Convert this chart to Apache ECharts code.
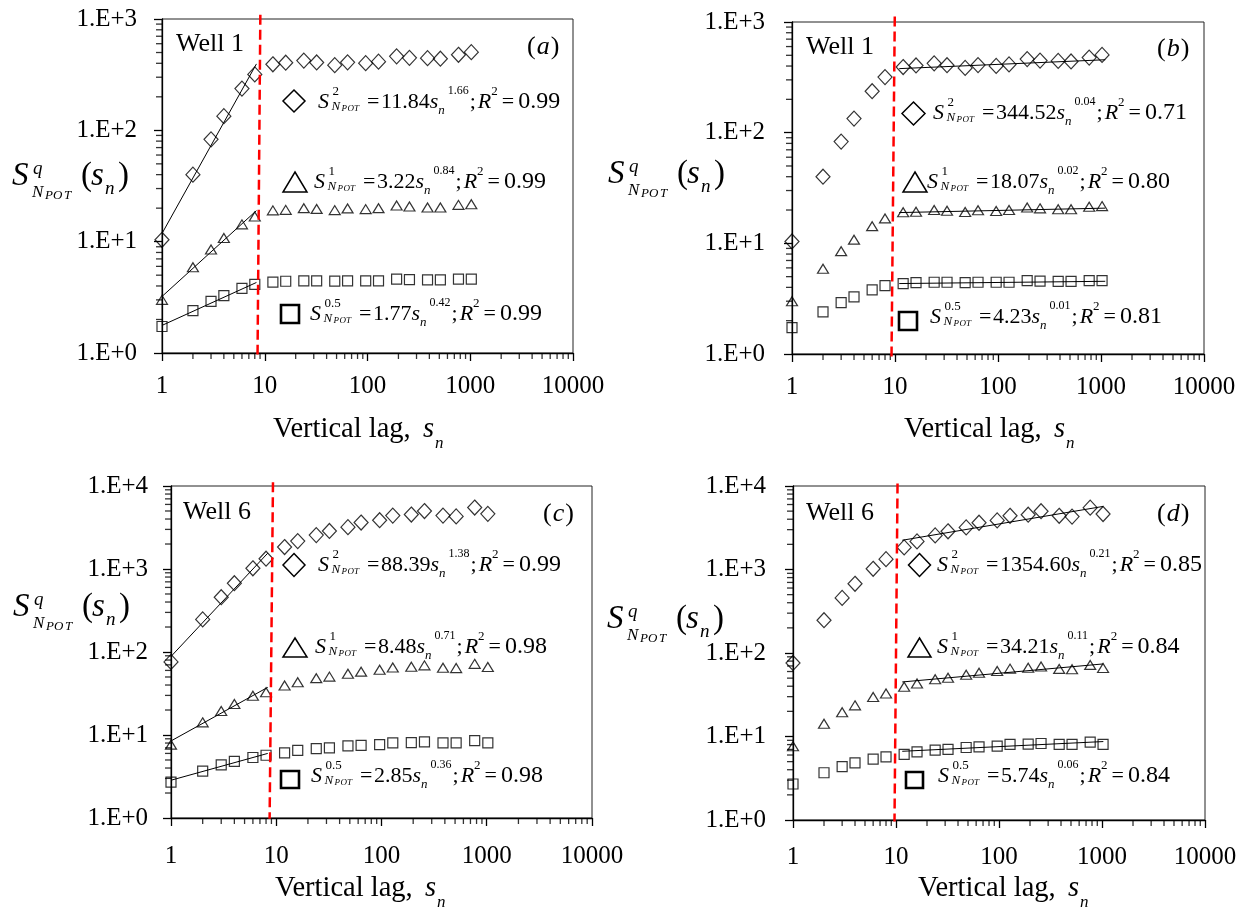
<!DOCTYPE html>
<html><head><meta charset="utf-8">
<script src="https://cdn.jsdelivr.net/npm/echarts@6/dist/echarts.min.js"></script>
<style>html,body{margin:0;padding:0;background:#fff}#c{width:1252px;height:907px}</style>
</head><body><div id="c"></div>
<script>
// ---------------- data ----------------
const lags = [1,2,3,4,6,8,12,16,24,32,48,64,96,128,192,256,384,512,768,1024];

// Well 1
const well1_q2  = [10.4, 40, 83, 134, 237, 318, 392, 405, 423, 407, 385, 408, 401, 414, 462, 448, 445, 440, 477, 504];
const well1_q1  = [3.0, 5.9, 8.5, 10.8, 14.3, 16.8, 19.1, 19.3, 20.0, 19.7, 19.2, 19.9, 19.6, 20.0, 21.1, 20.7, 20.3, 20.3, 21.4, 21.7];
const well1_q05 = [1.73, 2.4, 2.91, 3.28, 3.8, 4.14, 4.33, 4.41, 4.45, 4.45, 4.42, 4.45, 4.45, 4.45, 4.6, 4.56, 4.53, 4.53, 4.6, 4.6];

// Well 6
const well6_q2  = [76, 247, 457, 674, 1020, 1330, 1840, 2170, 2560, 2870, 3190, 3630, 3870, 4400, 4530, 4990, 4400, 4300, 5500, 4620];
const well6_q1  = [7.65, 14.2, 19.5, 23.6, 29.7, 32.7, 39.4, 43.2, 48.4, 50.5, 54.8, 58, 61, 65, 66.5, 69, 64.5, 64, 72, 66];
const well6_q05 = [2.7, 3.68, 4.36, 4.82, 5.36, 5.7, 6.1, 6.54, 6.85, 7.0, 7.38, 7.5, 7.65, 8.05, 8.1, 8.25, 8.05, 8.05, 8.55, 8.05];

// fitted power-law lines (end points)
const fitA_q2  = [[1, 11.84], [8.3, 395]];
const fitA_q1  = [[1, 3.22], [8.3, 19.0]];
const fitA_q05 = [[1, 1.77], [8.3, 4.30]];
const fitB_q2  = [[11, 379], [1100, 456]];
const fitB_q1  = [[11, 18.96], [1100, 20.8]];
const fitB_q05 = [[11, 4.33], [1100, 4.54]];
const fitC_q2  = [[1, 88.4], [8.3, 1550]];
const fitC_q1  = [[1, 8.48], [8.3, 37.5]];
const fitC_q05 = [[1, 2.85], [8.3, 6.0]];
const fitD_q2  = [[11.5, 2240], [1030, 5700]];
const fitD_q1  = [[11.5, 45], [1030, 74]];
const fitD_q05 = [[11.5, 6.65], [1030, 8.7]];

// red dashed separators
const dashA = [[9.06, 1090], [8.51, 0.97]];
const dashB = [[9.95, 1120], [9.25, 0.95]];
const dashC = [[9.31, 11100], [8.65, 0.98]];
const dashD = [[10.35, 10700], [9.67, 0.96]];

// equations: [superscript q, coefficient, exponent, R2]
const eqA = [['2','11.84','1.66','0.99'], ['1','3.22','0.84','0.99'], ['0.5','1.77','0.42','0.99']];
const eqB = [['2','344.52','0.04','0.71'], ['1','18.07','0.02','0.80'], ['0.5','4.23','0.01','0.81']];
const eqC = [['2','88.39','1.38','0.99'], ['1','8.48','0.71','0.98'], ['0.5','2.85','0.36','0.98']];
const eqD = [['2','1354.60','0.21','0.85'], ['1','34.21','0.11','0.84'], ['0.5','5.74','0.06','0.84']];

// axis ticks
const xTickValues = [1, 10, 100, 1000, 10000];
const xTickLabels = ['1', '10', '100', '1000', '10000'];
const yTickLabels = ['1.E+0', '1.E+1', '1.E+2', '1.E+3', '1.E+4'];
const minorTicks = [2,3,4,5,6,7,8,9,20,30,40,50,60,70,80,90,200,300,400,500,600,700,800,900,2000,3000,4000,5000,6000,7000,8000,9000];

// ---------------- helpers ----------------
const FONT = '"Liberation Serif", "Times New Roman", serif';
const mctx = document.createElement('canvas').getContext('2d');
function tw(t, fs, it) { mctx.font = (it ? 'italic ' : '') + fs + 'px ' + FONT; return mctx.measureText(t).width; }
function txt(t, x, base, fs, it) {
  return {type:'text', x: x, y: base - 0.32 * fs, silent: true, z: 100,
    style: {text: t, fill: '#000', fontSize: fs, fontFamily: FONT, fontStyle: it ? 'italic' : 'normal',
      textAlign: 'left', textVerticalAlign: 'middle', align: 'left', verticalAlign: 'middle'}};
}
function equation(x0, base, e) {
  const [sup, coef, expo, r2] = e;
  const F = 22, els = [];
  els.push(txt('S', x0, base, F, true));
  els.push(txt(sup, x0 + 14.5, base - 13, 13, false));
  els.push(txt('N', x0 + 13.5, base + 2, 13, true));
  els.push(txt('P', x0 + 23.5, base + 3, 9, true));
  els.push(txt('O', x0 + 29.5, base + 3, 9, true));
  els.push(txt('T', x0 + 36, base + 3, 9, true));
  els.push(txt('=', x0 + 49, base, F, false));
  let cx = x0 + 63;
  els.push(txt(coef, cx, base, F, false)); cx += tw(coef, F, false);
  els.push(txt('s', cx, base, F, true)); cx += tw('s', F, true);
  els.push(txt('n', cx, base + 6, 13, true)); cx += tw('n', 13, true) + 3;
  els.push(txt(expo, cx, base - 14, 12, false)); cx += tw(expo, 12, false) + 1;
  els.push(txt(';', cx, base, F, false)); cx += tw(';', F, false) + 2;
  els.push(txt('R', cx, base, F, true)); cx += tw('R', F, true);
  els.push(txt('2', cx, base - 13, 13, false)); cx += tw('2', 13, false) + 4;
  els.push(txt('=', cx, base, F, false)); cx += tw('=', F, false) + 4;
  els.push(txt(r2, cx, base, 24, false));
  return els;
}
function yTitle(x0, base) {
  return [
    txt('S', x0, base, 33, true),
    txt('q', x0 + 21, base - 12, 19, true),
    txt('N', x0 + 20, base + 11, 17, true),
    txt('P', x0 + 33, base + 13, 13, true),
    txt('O', x0 + 41, base + 13, 13, true),
    txt('T', x0 + 52, base + 13, 13, true),
    txt('(', x0 + 69, base, 33, false),
    txt('s', x0 + 79, base, 33, true),
    txt('n', x0 + 93, base + 8, 19, true),
    txt(')', x0 + 106, base, 33, false)
  ];
}
function xTitle(x0, base) {
  return [txt('Vertical lag,', x0, base, 28.5, false), txt('s', x0 + 150, base, 28.5, true), txt('n', x0 + 162, base + 10, 17, true)];
}
function panelTag(wellX, wellBase, wellText, tagX, tagBase, letter) {
  const els = [txt(wellText, wellX, wellBase, 26, false)];
  let cx = tagX;
  els.push(txt('(', cx, tagBase, 26, false)); cx += tw('(', 26, false) + 1;
  els.push(txt(letter, cx, tagBase, 26, true)); cx += tw(letter, 26, true) + 1;
  els.push(txt(')', cx, tagBase, 26, false));
  return els;
}
function diamond(cx, cy, hw, hh) {
  return {type:'polygon', silent:true, z:100, shape:{points:[[cx, cy-hh],[cx+hw, cy],[cx, cy+hh],[cx-hw, cy]]}, style:{fill:'none', stroke:'#000', lineWidth:1.5}};
}
function triangle(x1, x2, yt, yb) {
  return {type:'polygon', silent:true, z:100, shape:{points:[[(x1+x2)/2, yt],[x2, yb],[x1, yb]]}, style:{fill:'none', stroke:'#000', lineWidth:1.5}};
}
function square(x1, y1, x2, y2) {
  return {type:'rect', silent:true, z:100, shape:{x:x1, y:y1, width:x2-x1, height:y2-y1}, style:{fill:'none', stroke:'#000', lineWidth:2.6}};
}
const idx = v => Math.round(Math.log10(v));

// ---------------- panels ----------------
const panels = [
  {grid:{left:162, top:19, width:411, height:334}, ymax:1000, xm:21, ym:25,
   data:[well1_q2, well1_q1, well1_q05], fits:[fitA_q2, fitA_q1, fitA_q05], dash:dashA},
  {grid:{left:792, top:22, width:412, height:332}, ymax:1000, xm:21, ym:27,
   data:[well1_q2, well1_q1, well1_q05], fits:[fitB_q2, fitB_q1, fitB_q05], dash:dashB},
  {grid:{left:171, top:486, width:421, height:332}, ymax:10000, xm:26, ym:23,
   data:[well6_q2, well6_q1, well6_q05], fits:[fitC_q2, fitC_q1, fitC_q05], dash:dashC},
  {grid:{left:793, top:486, width:412, height:334}, ymax:10000, xm:25, ym:27,
   data:[well6_q2, well6_q1, well6_q05], fits:[fitD_q2, fitD_q1, fitD_q05], dash:dashD}
];

const grid = [], xAxis = [], yAxis = [], series = [];
const symbols = [['diamond', [14, 15]], ['triangle', [11, 9]], ['rect', [10, 10]]];
panels.forEach((p, i) => {
  grid.push(Object.assign({show:true, borderColor:'#222', borderWidth:1, backgroundColor:'#fff'}, p.grid));
  xAxis.push({type:'log', logBase:10, gridIndex:i, min:1, max:10000,
    axisLine:{lineStyle:{color:'#000', width:1.3}},
    axisTick:{show:true, inside:false, length:8, lineStyle:{color:'#000', width:1.3}},
    splitLine:{show:false},
    axisLabel:{margin:p.xm, fontSize:25, fontFamily:FONT, color:'#000', showMinLabel:true, showMaxLabel:true,
      formatter: v => xTickLabels[xTickValues.indexOf(Math.pow(10, idx(v)))]}});
  yAxis.push({type:'log', logBase:10, gridIndex:i, min:1, max:p.ymax,
    axisLine:{lineStyle:{color:'#000', width:1.3}},
    axisTick:{show:true, inside:false, length:8, lineStyle:{color:'#000', width:1.3}},
    splitLine:{show:false},
    axisLabel:{margin:p.ym, fontSize:25, fontFamily:FONT, color:'#000', showMinLabel:true, showMaxLabel:true,
      formatter: v => yTickLabels[idx(v)]}});
  p.data.forEach((arr, k) => {
    series.push({type:'scatter', xAxisIndex:i, yAxisIndex:i, symbol:symbols[k][0], symbolSize:symbols[k][1],
      itemStyle:{color:'rgba(0,0,0,0)', borderColor:'#000', borderWidth:1.2}, z:5,
      data: lags.map((x, j) => [x, arr[j]])});
  });
  p.fits.forEach(f => {
    series.push({type:'line', xAxisIndex:i, yAxisIndex:i, symbol:'none', data:f, z:4,
      lineStyle:{color:'#000', width:1}});
  });
  series.push({type:'line', xAxisIndex:i, yAxisIndex:i, symbol:'none', data:p.dash, clip:false, z:6,
    lineStyle:{color:'#FF0000', width:2.5, type:[10, 5]}});
  // minor log ticks (outside the frame), placed by the axes' own scales
  series.push({type:'scatter', xAxisIndex:i, yAxisIndex:i, silent:true, clip:false, z:3,
    symbol:'rect', symbolSize:[1.3, 6], symbolOffset:[0, 3], itemStyle:{color:'#000'},
    data: minorTicks.map(v => [v, 1])});
  series.push({type:'scatter', xAxisIndex:i, yAxisIndex:i, silent:true, clip:false, z:3,
    symbol:'rect', symbolSize:[6, 1.3], symbolOffset:[-3, 0], itemStyle:{color:'#000'},
    data: minorTicks.filter(v => v < p.ymax).map(v => [1, v])});
});

// ---------------- texts ----------------
let graphic = [];
graphic = graphic.concat(panelTag(176, 52, 'Well 1', 527, 55, 'a'));
graphic = graphic.concat(panelTag(806, 55, 'Well 1', 1157, 57, 'b'));
graphic = graphic.concat(panelTag(183, 520, 'Well 6', 543, 522, 'c'));
graphic = graphic.concat(panelTag(806, 521, 'Well 6', 1157, 522, 'd'));

graphic = graphic.concat(yTitle(12, 187), yTitle(608, 185), yTitle(13, 618), yTitle(607, 630));
graphic = graphic.concat(xTitle(273, 439), xTitle(904, 439), xTitle(275, 898), xTitle(918, 898));

// legend keys
graphic.push(diamond(294, 101, 11, 11), triangle(283, 307, 172, 192), square(281, 305, 299, 323));
graphic.push(diamond(913.5, 113.5, 11.5, 11.5), triangle(903, 927, 172, 192), square(899, 312, 917, 330));
graphic.push(diamond(294, 565, 11, 11.5), triangle(283, 307, 638, 657), square(281, 771, 299, 788));
graphic.push(diamond(919.5, 565, 11, 11.5), triangle(908, 931, 638, 657), square(906, 772, 923, 788));

// equations
graphic = graphic.concat(equation(318, 109, eqA[0]), equation(314, 189, eqA[1]), equation(310, 321, eqA[2]));
graphic = graphic.concat(equation(933, 120, eqB[0]), equation(927, 189, eqB[1]), equation(930, 324, eqB[2]));
graphic = graphic.concat(equation(318, 572, eqC[0]), equation(315, 654, eqC[1]), equation(311, 783, eqC[2]));
graphic = graphic.concat(equation(937, 572, eqD[0]), equation(937, 654, eqD[1]), equation(938, 783, eqD[2]));

const chart = echarts.init(document.getElementById('c'), null, {renderer:'canvas'});
chart.setOption({animation:false, backgroundColor:'#fff', grid, xAxis, yAxis, series, graphic});
</script>
</body></html>
